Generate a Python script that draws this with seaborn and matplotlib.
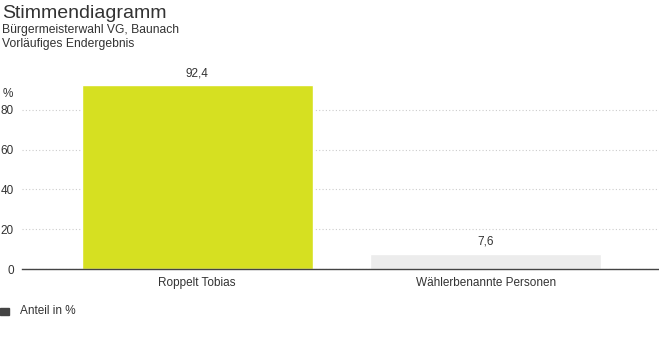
import matplotlib
matplotlib.use("Agg")
import matplotlib.pyplot as plt
import seaborn as sns
import pandas as pd

# data
kandidaten = ["Roppelt Tobias", "Wählerbenannte Personen"]
anteil = [92.4, 7.6]
balkenfarben = ["#d6e021", "#ececec"]
y_ticks = [0, 20, 40, 60, 80]

sns.set_theme(style="white")
plt.rcParams["font.family"] = ["Liberation Sans", "DejaVu Sans"]
text_col = "#333333"

df = pd.DataFrame({"Kandidat": kandidaten, "Anteil": anteil})

fig = plt.figure(figsize=(6.59, 3.52), dpi=100)
ax = fig.add_axes([22 / 659, 1 - 269 / 352, 637 / 659, 199 / 352])

sns.barplot(data=df, x="Kandidat", y="Anteil", hue="Kandidat",
            palette=balkenfarben, width=0.8, legend=False, ax=ax,
            saturation=1)

for i, v in enumerate(anteil):
    ax.text(i, v + 3, f"{v:.1f}".replace(".", ","), ha="center", va="bottom",
            fontsize=8.5, color=text_col)

ax.set_ylim(0, 100)
ax.set_xlim(-0.607, 1.601)
ax.set_yticks(y_ticks)
ax.yaxis.grid(True, linestyle=(0, (1, 2)), color="#cccccc", linewidth=0.8)
ax.set_axisbelow(True)
for s in ["top", "right", "left"]:
    ax.spines[s].set_visible(False)
ax.spines["bottom"].set_color("#444444")
ax.spines["bottom"].set_linewidth(1)
ax.tick_params(axis="both", length=0, labelsize=8.5, labelcolor=text_col)
ax.tick_params(axis="x", pad=6)
ax.tick_params(axis="y", pad=6)
ax.set_xlabel("")
ax.set_ylabel("")
fig.text(3 / 659, 1 - 94 / 352, "%", fontsize=8.5, color=text_col, va="center")

fig.text(2 / 659, 1 - 13 / 352, "Stimmendiagramm", fontsize=14,
         color=text_col, va="center")
fig.text(2 / 659, 1 - 30 / 352, "Bürgermeisterwahl VG, Baunach", fontsize=8.7,
         color=text_col, va="center")
fig.text(2 / 659, 1 - 44 / 352, "Vorläufiges Endergebnis", fontsize=8.7,
         color=text_col, va="center")

# legend
fig.patches.append(plt.Rectangle((0, 1 - 315 / 352), 9 / 659, 7 / 352,
                                 transform=fig.transFigure, color="#444444"))
fig.text(20 / 659, 1 - 311 / 352, "Anteil in %", fontsize=8.5,
         color=text_col, va="center")

fig.savefig("out.png", dpi=100, facecolor="white")
